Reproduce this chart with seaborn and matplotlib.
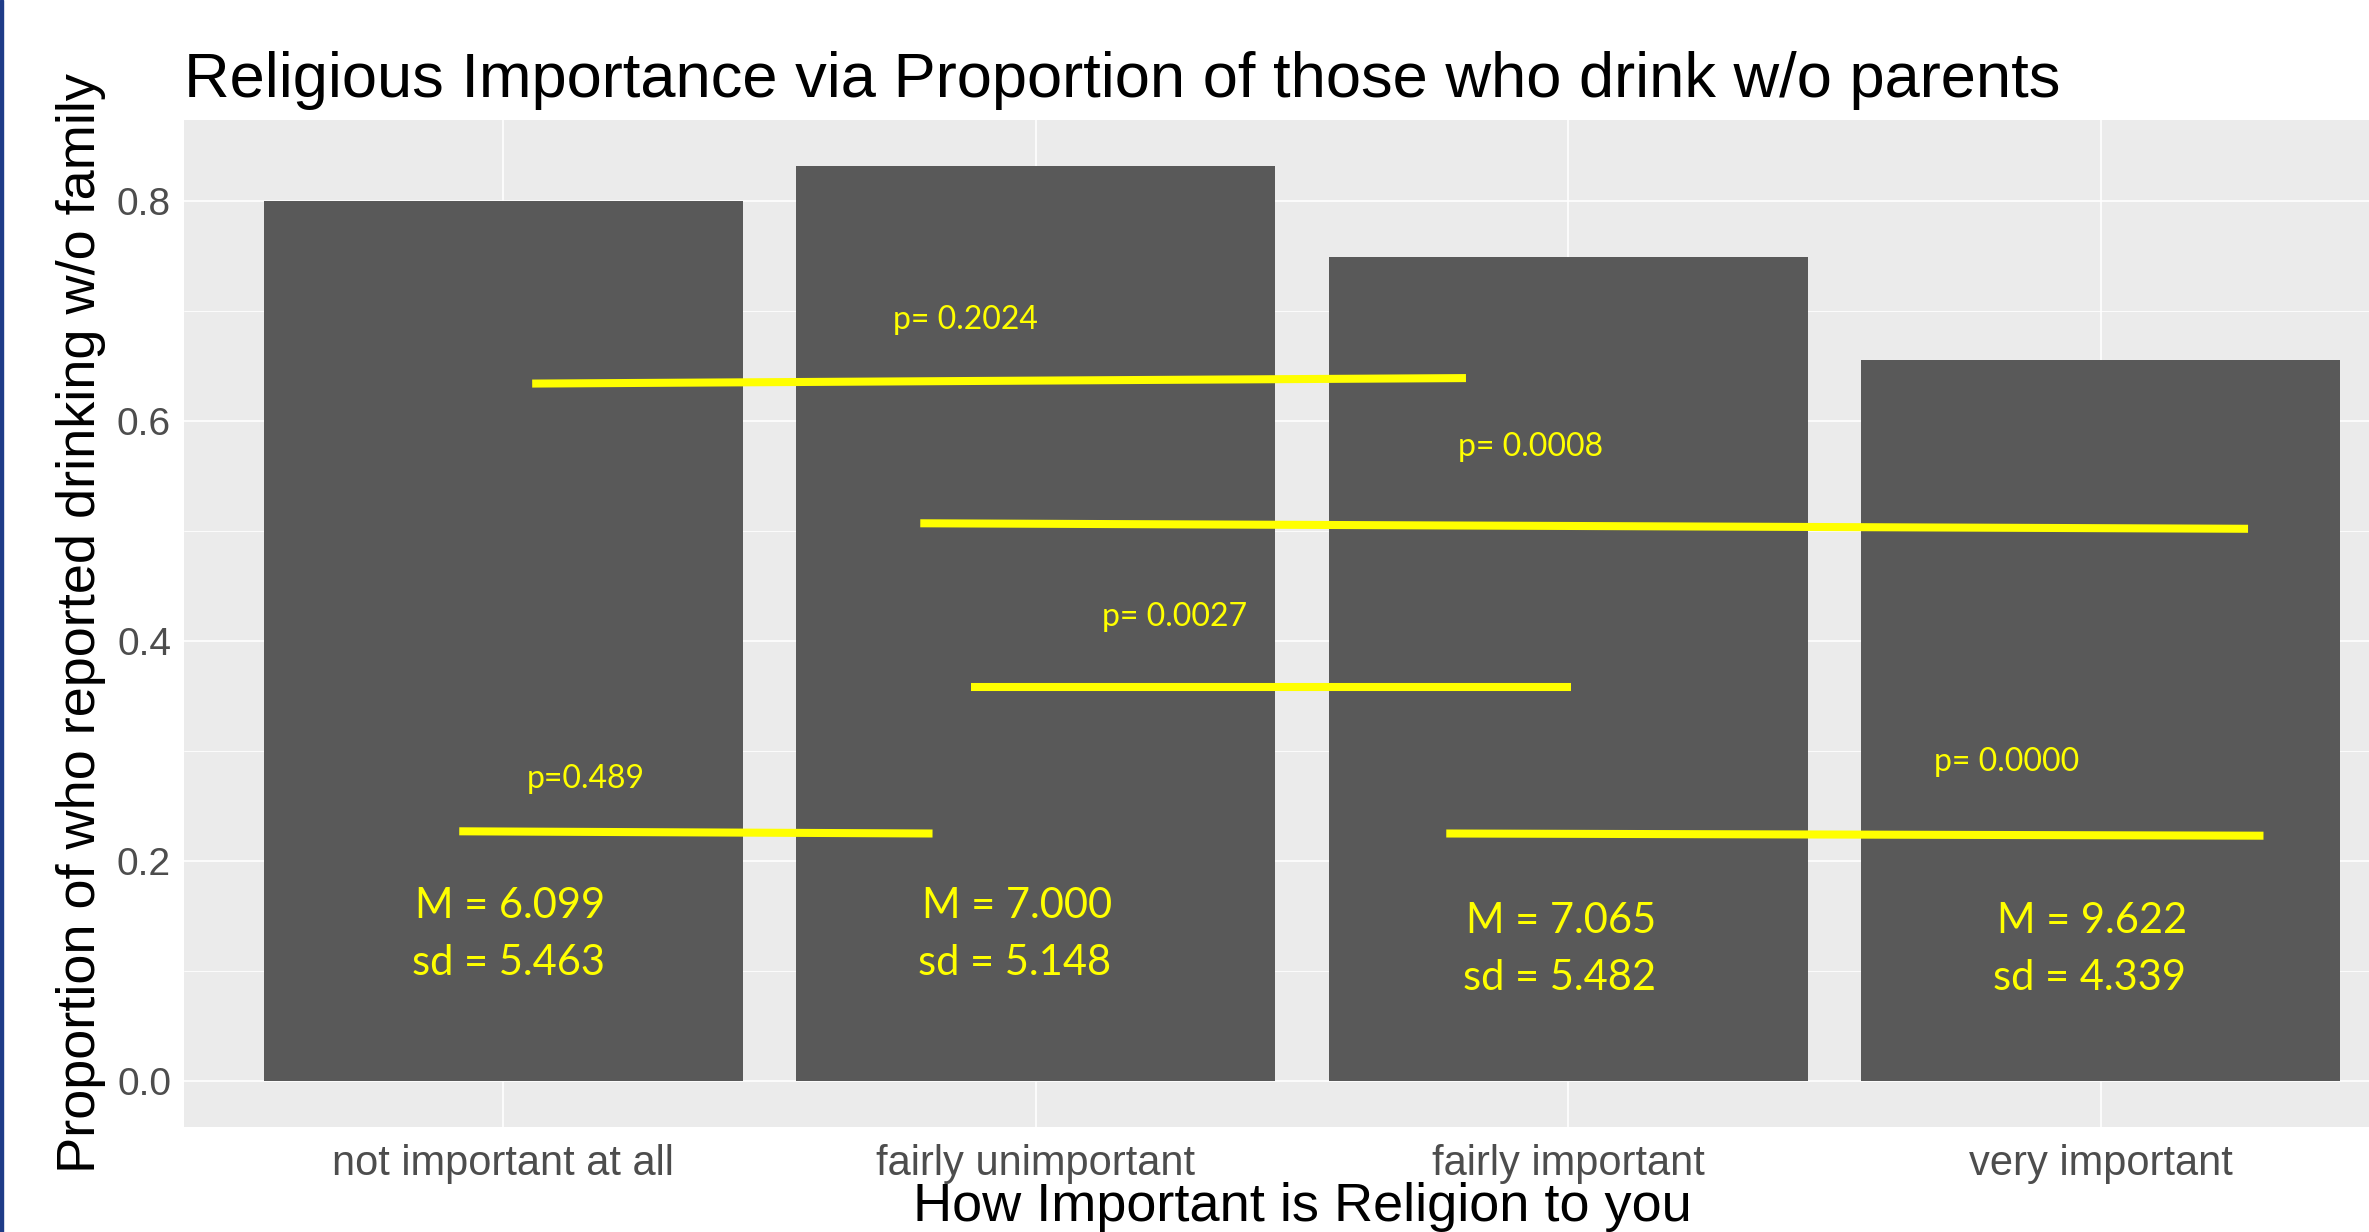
import numpy as np
import pandas as pd
import matplotlib
matplotlib.use("Agg")
import matplotlib.pyplot as plt
import seaborn as sns
from matplotlib.patches import Rectangle
from matplotlib.ticker import MultipleLocator

# data
categories = ["not important at all", "fairly unimportant", "fairly important", "very important"]
proportion = [0.800, 0.832, 0.749, 0.655]
means = ["6.099", "7.000", "7.065", "9.622"]
sds = ["5.463", "5.148", "5.482", "4.339"]

# yellow comparison lines drawn on top (x in category units, y in proportion units)
line_x0 = [0.054, 0.783, 0.879, -0.083, 1.771]
line_x1 = [1.808, 3.277, 2.006, 0.806, 3.306]
line_y0 = [0.634, 0.507, 0.358, 0.227, 0.225]
line_y1 = [0.639, 0.502, 0.358, 0.225, 0.223]
p_labels = ["p= 0.2024", "p= 0.0008", "p= 0.0027", "p=0.489", "p= 0.0000"]
p_x = [0.868, 1.930, 1.260, 0.154, 2.824]
p_y = [0.684, 0.568, 0.414, 0.266, 0.282]

df = pd.DataFrame({"importance": categories, "prop": proportion})

sns.set_theme(style="white")
plt.rcParams['font.family'] = ['Liberation Sans', 'DejaVu Sans']

W, H = 2369, 1232
fig = plt.figure(figsize=(W / 100, H / 100), dpi=100)
# panel runs past the right edge, as in the cropped screenshot
ax = fig.add_axes([184 / W, 105 / H, (2420 - 184) / W, (1127 - 120) / H])
ax.set_facecolor("#EBEBEB")

sns.barplot(data=df, x="importance", y="prop", order=categories, color="#595959",
            saturation=1, width=0.9, errorbar=None, linewidth=0, ax=ax, zorder=2)

ax.set_xlim(-0.6, 3.6)
ax.set_ylim(-0.0418, 0.8736)
ax.yaxis.set_major_locator(MultipleLocator(0.2))
ax.yaxis.set_minor_locator(MultipleLocator(0.1))
ax.set_yticklabels([f"{t:.1f}" for t in ax.get_yticks()])
ax.set_axisbelow(True)
ax.grid(which="major", color="white", linewidth=1.2)
ax.grid(which="minor", axis="y", color="white", linewidth=0.6)
for s in ax.spines.values():
    s.set_visible(False)
ax.tick_params(axis="both", which="major", length=4.3, width=1, color="#333333",
               labelcolor="#4D4D4D", labelsize=28)
ax.tick_params(axis="y", which="major", pad=5)
ax.tick_params(axis="x", which="major", pad=8, labelsize=30)
ax.tick_params(which="minor", length=0)
ax.set_xlabel("")
ax.set_ylabel("")

for i in range(len(line_x0)):
    ax.plot([line_x0[i], line_x1[i]], [line_y0[i], line_y1[i]], color="#FFFF00",
            linewidth=5.8, solid_capstyle="butt", zorder=4)
    ax.text(p_x[i], p_y[i], p_labels[i], color="#FFFF00", fontsize=23,
            family=["Lato", "DejaVu Sans"], ha="center", va="baseline", zorder=5)

m_off = [0.013, -0.035, -0.013, -0.016]
m_base = [0.148, 0.148, 0.1345, 0.1345]
for i in range(len(categories)):
    ax.text(i + m_off[i], m_base[i], "M = " + means[i], color="#FFFF00", fontsize=30,
            family=["Lato", "DejaVu Sans"], ha="center", va="baseline", zorder=5)
    ax.text(i + m_off[i] - 0.004, m_base[i] - 0.0518, "sd = " + sds[i], color="#FFFF00",
            fontsize=30, family=["Lato", "DejaVu Sans"], ha="center", va="baseline", zorder=5)

fig.text(184 / W, 1 - 97 / H, "Religious Importance via Proportion of those who drink w/o parents",
         fontsize=45.5, color="black", ha="left", va="baseline")
fig.text(81 / W, 1 - 623 / H, "Proportion of who reported drinking w/o family",
         fontsize=39, color="black", rotation=90, ha="center", va="center")
fig.text(1302 / W, 1 - 1221 / H, "How Important is Religion to you",
         fontsize=39, color="black", ha="center", va="baseline")

# thin navy border on the left edge of the screenshot
fig.add_artist(Rectangle((0, 0), 2.5 / W, 1, transform=fig.transFigure,
                         color="#1F3C88", zorder=10))

fig.savefig("out.png", dpi=100)
